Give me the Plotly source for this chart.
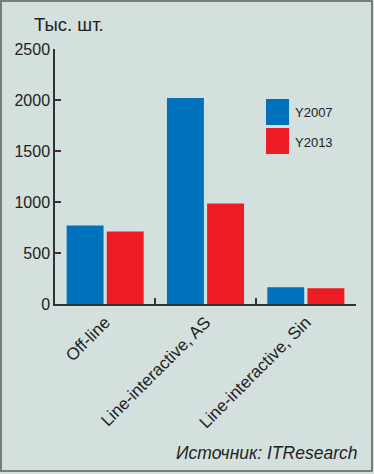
import plotly.graph_objects as go

categories = ["Off-line", "Line-interactive, AS", "Line-interactive, Sin"]
series_names = ["Y2007", "Y2013"]
y2007 = [770, 2020, 165]
y2013 = [710, 985, 155]
y_ticks = [0, 500, 1000, 1500, 2000, 2500]
colors = ["#0071BB", "#ED1C24"]

W, H = 374, 474
L, R, T, B = 55, 18, 49, 170
pw, ph = W - L - R, H - T - B


def px(x):
    return (x - L) / pw


def py(y):
    return (H - B - y) / ph


fig = go.Figure()
for name, vals, col in zip(series_names, [y2007, y2013], colors):
    fig.add_trace(go.Bar(x=categories, y=vals, name=name, marker=dict(color=col, line=dict(width=0)),
                         showlegend=False, hoverinfo="skip"))

font_main = "Liberation Sans, Arial, sans-serif"
fig.update_layout(
    width=W, height=H,
    margin=dict(l=L, r=R, t=T, b=B),
    paper_bgcolor="#D3E0DD",
    plot_bgcolor="#D3E0DD",
    barmode="group",
    bargap=0.2,
    bargroupgap=0.08,
    font=dict(family=font_main, color="#222222", size=16),
    xaxis=dict(
        showgrid=False, zeroline=False, showline=True, linecolor="#333333", linewidth=1.5,
        ticks="inside", ticklen=6, tickcolor="#333333", tickwidth=1.5, tickson="boundaries",
        tickangle=-45, tickfont=dict(size=17, family=font_main, color="#222222"),
    ),
    yaxis=dict(
        range=[0, 2500], tickvals=y_ticks, showgrid=False, zeroline=False,
        showline=True, linecolor="#333333", linewidth=1.5,
        ticks="inside", ticklen=6, tickcolor="#333333", tickwidth=1.5,
        tickfont=dict(size=16, family=font_main, color="#222222"),
    ),
)

shapes = []
# legend squares
shapes.append(dict(type="rect", xref="paper", yref="paper", x0=px(266), x1=px(289), y0=py(125), y1=py(99),
                   fillcolor=colors[0], line=dict(width=0)))
shapes.append(dict(type="rect", xref="paper", yref="paper", x0=px(266), x1=px(289), y0=py(154), y1=py(128),
                   fillcolor=colors[1], line=dict(width=0)))
# frame
shapes.append(dict(type="rect", xref="paper", yref="paper", x0=px(1), x1=px(372), y0=py(471), y1=py(1),
                   line=dict(color="#7A7A7A", width=2), fillcolor="rgba(0,0,0,0)", layer="above"))
fig.update_layout(shapes=shapes)

annotations = [
    dict(text="Тыс. шт.", xref="paper", yref="paper", x=px(32), y=py(25), xanchor="left", yanchor="middle",
         showarrow=False, font=dict(size=18.5, family=font_main, color="#222222")),
    dict(text=series_names[0], xref="paper", yref="paper", x=px(293), y=py(112), xanchor="left", yanchor="middle",
         showarrow=False, font=dict(size=13, family=font_main, color="#222222")),
    dict(text=series_names[1], xref="paper", yref="paper", x=px(293), y=py(142), xanchor="left", yanchor="middle",
         showarrow=False, font=dict(size=13, family=font_main, color="#222222")),
    dict(text="<i>Источник: ITResearch</i>", xref="paper", yref="paper", x=px(359), y=py(453), xanchor="right",
         yanchor="middle", showarrow=False, font=dict(size=17.5, family=font_main, color="#222222")),
]
fig.update_layout(annotations=annotations)

fig.write_html("out.html", config={"displayModeBar": False},
               post_script="document.body.style.margin='0';document.body.style.padding='0';document.body.style.overflow='hidden';")
